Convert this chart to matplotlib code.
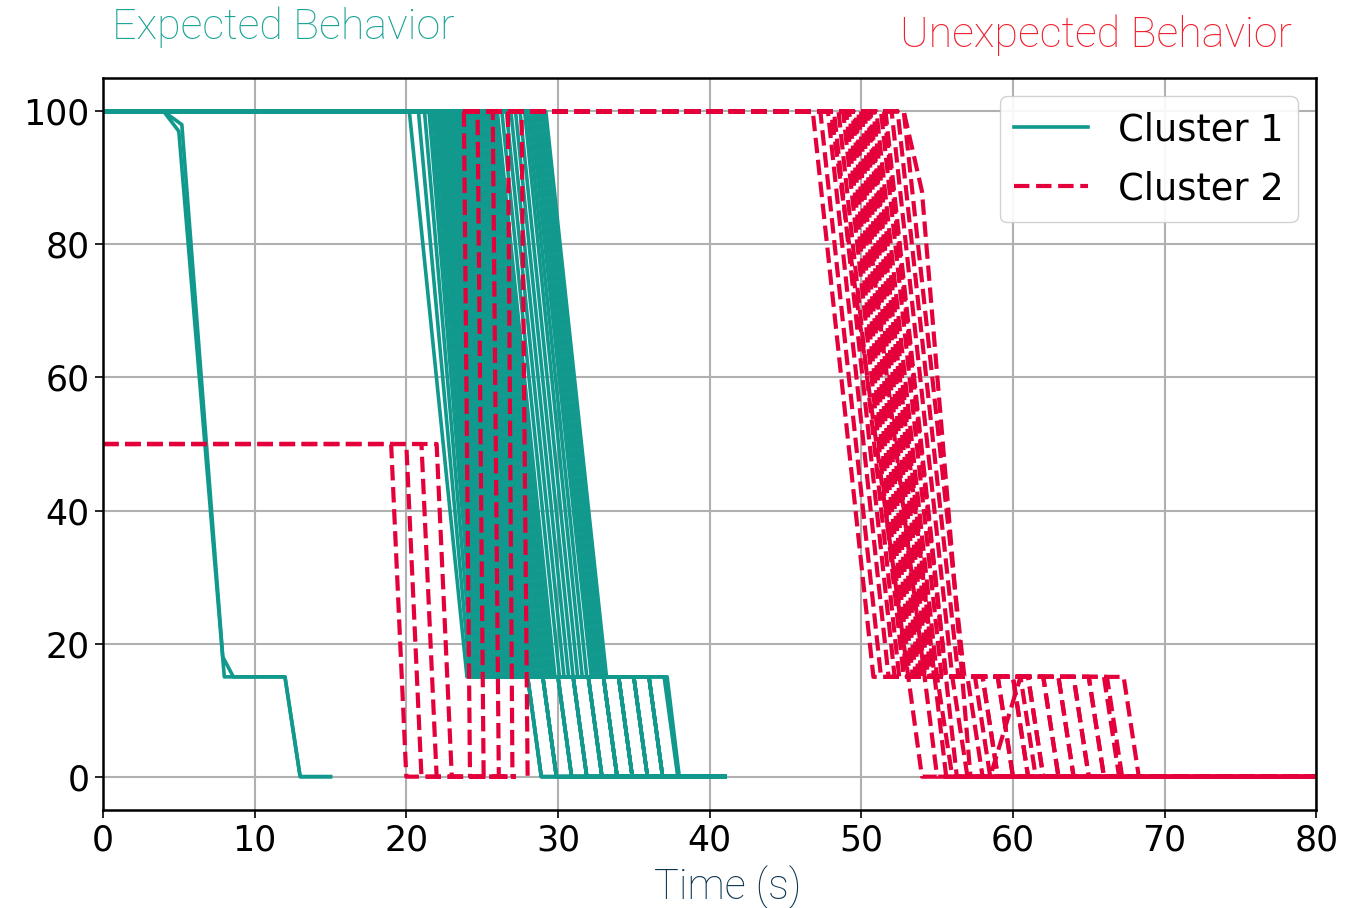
import numpy as np
import matplotlib
matplotlib.use("Agg")
import matplotlib.pyplot as plt

teal = '#11998e'
red = '#e4003a'

# cluster 1 - two early curves (time, value)
c1_early_t = [[0, 4, 5, 8, 12, 13, 15], [0, 4, 5.2, 7.9, 8.6, 12, 13, 15]]
c1_early_v = [[100, 100, 97, 15, 15, 0, 0], [100, 100, 98, 18, 15, 15, 0, 0]]

# cluster 1 - main bundle: leave 100, reach 15, leave 15, reach 0
c1_drop = [20.2, 20.8, 21.2, 21.5, 21.7, 21.9,
           22.0, 22.1, 22.2, 22.3, 22.4, 22.5, 22.6, 22.7, 22.8, 22.9, 23.0, 23.1, 23.2, 23.3, 23.4,
           23.5, 23.6, 23.7, 23.8, 23.9, 24.0,
           24.2, 24.4, 24.6, 24.8, 25.0, 25.2, 25.4, 25.6, 25.8, 26.0,
           26.3, 26.6, 26.9, 27.2, 27.5, 27.8,
           28.0, 28.2, 28.4, 28.6, 28.8, 29.0, 29.2]
c1_at15 = [24.0, 24.2, 24.4, 24.6, 24.8, 25.0, 25.2, 25.4, 25.6, 25.8,
           26.0, 26.2, 26.4,
           26.5, 26.6, 26.7, 26.8, 26.9, 27.0, 27.1, 27.2, 27.3, 27.4, 27.5, 27.6, 27.7, 27.8,
           28.0, 28.2, 28.4, 28.6, 28.8, 29.0, 29.2, 29.4, 29.6, 29.8,
           30.1, 30.4, 30.7, 31.0, 31.3, 31.6, 31.9,
           32.2, 32.4, 32.6, 32.8, 33.0, 33.2]
c1_off15 = [37.2, 36, 35, 34, 33, 32, 31, 30, 29, 28,
            28, 29, 30, 31, 32, 33, 34, 35, 36, 37,
            28, 29, 30, 31, 32, 33, 34, 35, 36, 29,
            29, 30, 31, 32, 33, 34, 35, 36, 31, 32,
            33, 34, 35, 36, 33, 33, 34, 35, 36, 34]
c1_zero = [38.0, 36.9, 35.9, 34.9, 33.9, 32.9, 31.9, 30.9, 29.9, 28.9,
           28.9, 29.9, 30.9, 31.9, 32.9, 33.9, 34.9, 35.9, 36.9, 37.9,
           28.9, 29.9, 30.9, 31.9, 32.9, 33.9, 34.9, 35.9, 36.9, 29.9,
           29.9, 30.9, 31.9, 32.9, 33.9, 34.9, 35.9, 36.9, 31.9, 32.9,
           33.9, 34.9, 35.9, 36.9, 33.9, 33.9, 34.9, 35.9, 36.9, 34.9]
c1_end = 41

# cluster 2 - starting at 50, falling to 0
c2a_drop = [19, 20, 21, 22]
c2a_zero = [20, 21, 22, 23]
c2a_end = 27.2

# cluster 2 - starting at 100 (recorded from ~23.8), quick fall
c2_start = 23.8
c2b_drop = [23.8, 24.7, 25.7, 26.7, 27.6]
c2b_zero = [24.2, 25.1, 26.1, 27.0, 28.0]

# cluster 2 - late drop bundle with plateau at 15
c2c_drop = [46.8, 47.3, 47.8, 48.2, 48.5, 48.8, 49.0, 49.2, 49.4, 49.6, 49.8,
            50.0, 50.2, 50.4, 50.6, 50.8, 51.0, 51.3, 51.6, 52.0, 52.4, 52.8]
c2c_at15 = [50.8, 51.3, 51.8, 52.2, 52.5, 52.8, 53.0, 53.2, 53.4, 53.6, 53.8,
            54.0, 54.2, 54.4, 54.6, 54.8, 55.0, 55.3, 55.6, 56.0, 56.4, 56.8]
c2c_off15 = [66.2, 67.3, 65.0, 64.0, 63.0, 62.0, 61.0, 60.0, 59.0, 58.0, 57.0,
             56.0, 55.0, 66.0, 65.0, 64.0, 63.0, 62.0, 61.0, 60.0, 59.0, 58.0]
c2c_zero = [67.2, 68.3, 66.0, 65.0, 64.0, 63.0, 62.0, 61.0, 60.0, 59.0, 58.0,
            57.0, 56.0, 67.0, 66.0, 65.0, 64.0, 63.0, 62.0, 61.0, 60.0, 59.0]
# late curves falling straight to 0
c2d_drop = [48.0, 49.5, 50.5, 51.5]
c2d_zero = [54.0, 55.0, 55.6, 56.3]
c2_end = 80

# odd cluster 2 curves
c2x_t = [[23.8, 50.0, 54.0, 57.5, 58.5, 60.5, 61.5, 80], [23.8, 52.8, 54.0, 57.2, 80]]
c2x_v = [[100, 100, 15, 15, 0, 15, 0, 0], [100, 100, 88, 0, 0]]

fig = plt.figure(figsize=(13.64, 9.08), dpi=100)
ax = fig.add_axes([0.0755, 0.108, 0.8895, 0.806])

lw1 = 2.6
lw2 = 3.0
for t, v in zip(c1_early_t, c1_early_v):
    ax.plot(t, v, color=teal, lw=lw1)
for a, b, c, d in zip(c1_drop, c1_at15, c1_off15, c1_zero):
    ax.plot([0, a, b, c, d, c1_end], [100, 100, 15, 15, 0, 0], color=teal, lw=lw1)

for a, b in zip(c2a_drop, c2a_zero):
    ax.plot([0, a, b, c2a_end], [50, 50, 0, 0], color=red, lw=lw2, ls='--')
for a, b in zip(c2b_drop, c2b_zero):
    ax.plot([c2_start, a, b, max(b, c2a_end)], [100, 100, 0, 0], color=red, lw=lw2, ls='--')
for a, b, c, d in zip(c2c_drop, c2c_at15, c2c_off15, c2c_zero):
    ax.plot([c2_start, a, b, c, d, c2_end], [100, 100, 15, 15, 0, 0], color=red, lw=lw2, ls='--')
for a, b in zip(c2d_drop, c2d_zero):
    ax.plot([c2_start, a, b, c2_end], [100, 100, 0, 0], color=red, lw=lw2, ls='--')
for t, v in zip(c2x_t, c2x_v):
    ax.plot(t, v, color=red, lw=lw2, ls='--')

# legend proxies
l1, = ax.plot([], [], color=teal, lw=lw1)
l2, = ax.plot([], [], color=red, lw=lw2, ls='--')
ax.legend([l1, l2], ['Cluster 1', 'Cluster 2'], loc='upper right', fontsize=26.5, framealpha=0.9,
          handlelength=2.0, handletextpad=0.8, labelspacing=0.6, borderaxespad=0.5)

ax.set_xlim(0, 80)
ax.set_ylim(-5, 105)
ax.set_xticks(np.arange(0, 81, 10))
ax.set_yticks(np.arange(0, 101, 20))
ax.grid(True, color='#b0b0b0', lw=1.5)
ax.set_axisbelow(True)
ax.tick_params(labelsize=25, length=6, width=1.2)
for s in ax.spines.values():
    s.set_linewidth(1.8)

ax.set_xlabel('Time (s)', fontsize=30, family='Roboto', fontweight='light', color='#0b3550')
ax.xaxis.set_label_coords(0.515, -0.075)

fig.text(0.082, 0.970, 'Expected Behavior', fontsize=31, family='Roboto', fontweight='light',
         color='#1aa396', va='center', ha='left')
fig.text(0.947, 0.961, 'Unexpected Behavior', fontsize=31, family='Roboto', fontweight='light',
         color='#f01e2c', va='center', ha='right')

fig.savefig('out.png', dpi=100)
